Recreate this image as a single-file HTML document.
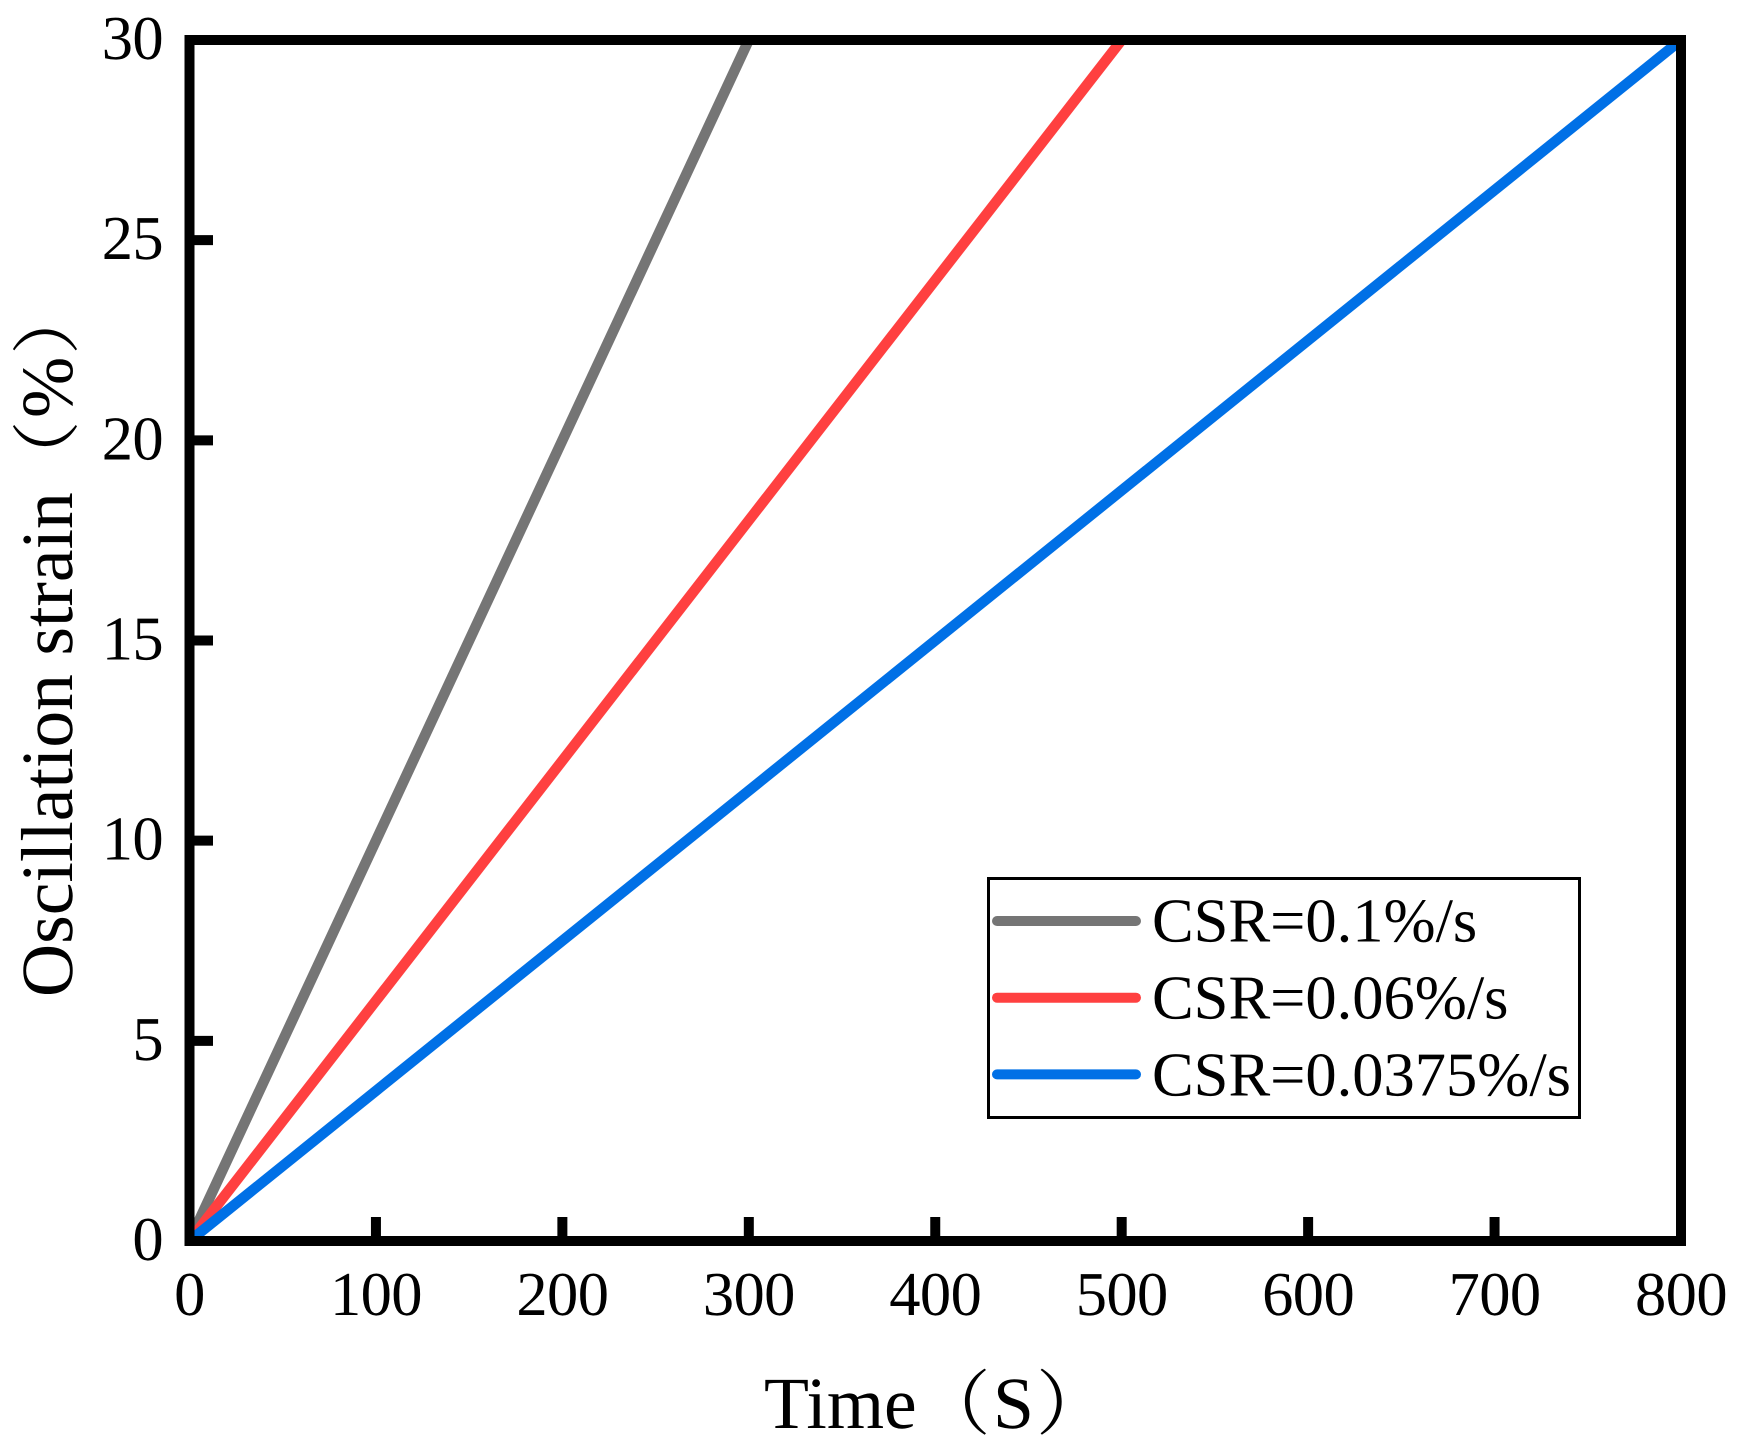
<!DOCTYPE html>
<html lang="en">
<head>
<meta charset="utf-8">
<title>Oscillation strain vs time</title>
<style>
html,body{margin:0;padding:0;background:#fff;width:1740px;height:1442px;overflow:hidden}
svg{display:block}
text{font-family:"Liberation Serif","Noto Serif CJK SC",serif;fill:#000;text-rendering:geometricPrecision}
.paren{font-family:"Noto Serif CJK SC","Liberation Serif",serif}
</style>
</head>
<body>
<svg id="chart" width="1740" height="1442" viewBox="0 0 1740 1442" xmlns="http://www.w3.org/2000/svg">
  <defs><clipPath id="plot-clip"><rect x="194" y="45" width="1482" height="1191"/></clipPath></defs>
  <rect x="0" y="0" width="1740" height="1442" fill="#fff"/>
  <g id="series" clip-path="url(#plot-clip)"></g>
  <g id="ticks"></g>
  <rect x="189.5" y="40" width="1491.5" height="1201" fill="none" stroke="#000" stroke-width="10"/>
  <g id="tick-labels"></g>
  <g font-size="73.6">
    <text x="764" y="1428">Time</text>
    <text class="paren" transform="translate(917 1428.7) scale(1 .96)">（</text>
    <text x="993" y="1428">S</text>
    <text class="paren" transform="translate(1036 1428.7) scale(1 .96)">）</text>
  </g>
  <g font-size="73.6">
    <text transform="translate(72 997) rotate(-90)">Oscillation strain</text>
    <text class="paren" transform="translate(72 494) rotate(-90) translate(0 -1.2) scale(1 .93)">（</text>
    <text transform="translate(72 418) rotate(-90)">%</text>
    <text class="paren" transform="translate(72 355) rotate(-90) translate(0 -1.2) scale(1 .93)">）</text>
  </g>
  <g>
    <rect x="988.5" y="878.5" width="591" height="239" fill="#fff" stroke="#000" stroke-width="3"/>
    <g id="legend-entries"></g>
  </g>
</svg>
<script>
const xTickLabels = [0, 100, 200, 300, 400, 500, 600, 700, 800];
const yTickLabels = [0, 5, 10, 15, 20, 25, 30];
const seriesNames = ['CSR=0.1%/s', 'CSR=0.06%/s', 'CSR=0.0375%/s'];
const seriesTimes = [[0, 300], [0, 500], [0, 800]];
const seriesStrains = [[0, 30], [0, 30], [0, 30]];
const seriesColors = ['#757575', '#ff4040', '#0070e6'];

const NS = 'http://www.w3.org/2000/svg';
const xScale = v => 189.5 + (v / 800) * 1491.5;
const yScale = v => 1241 - (v / 30) * 1201;

function make(tag, attrs, parent) {
  const el = document.createElementNS(NS, tag);
  for (const k in attrs) el.setAttribute(k, attrs[k]);
  parent.appendChild(el);
  return el;
}

const seriesGroup = document.getElementById('series');
const ticksGroup = document.getElementById('ticks');
const labelsGroup = document.getElementById('tick-labels');
const legendGroup = document.getElementById('legend-entries');

seriesNames.forEach((name, i) => {
  const pts = seriesTimes[i].map((t, j) => xScale(t) + ',' + yScale(seriesStrains[i][j])).join(' ');
  const line = make('polyline', {points: pts, fill: 'none', stroke: seriesColors[i], 'stroke-width': 10.5}, seriesGroup);
  
  

  const ly = 921 + i * 76.7;
  const handle = make('line', {x1: 997, x2: 1136, y1: ly, y2: ly, stroke: seriesColors[i], 'stroke-width': 10, 'stroke-linecap': 'round'}, legendGroup);
  
  

  const label = make('text', {x: 1152, y: 941.5 + i * 77, 'font-size': 62.5}, legendGroup);
  label.textContent = name;
  
  
});

xTickLabels.forEach(v => {
  const x = xScale(v);
  if (v !== 0 && v !== 800) {
    const tick = make('line', {x1: x, x2: x, y1: 1217, y2: 1236, stroke: '#000', 'stroke-width': 10}, ticksGroup);
    
    
  }
  const label = make('text', {x: x, y: 1315, 'font-size': 62.5, 'text-anchor': 'middle', 'letter-spacing': -0.6}, labelsGroup);
  label.textContent = v;
  
  
});

yTickLabels.forEach(v => {
  const y = yScale(v);
  if (v !== 0 && v !== 30) {
    const tick = make('line', {x1: 194, x2: 213, y1: y, y2: y, stroke: '#000', 'stroke-width': 10}, ticksGroup);
    
    
  }
  const label = make('text', {x: 163, y: y + 19, 'font-size': 62.5, 'text-anchor': 'end', 'letter-spacing': -0.6}, labelsGroup);
  label.textContent = v;
  
  
});
</script>
</body>
</html>
